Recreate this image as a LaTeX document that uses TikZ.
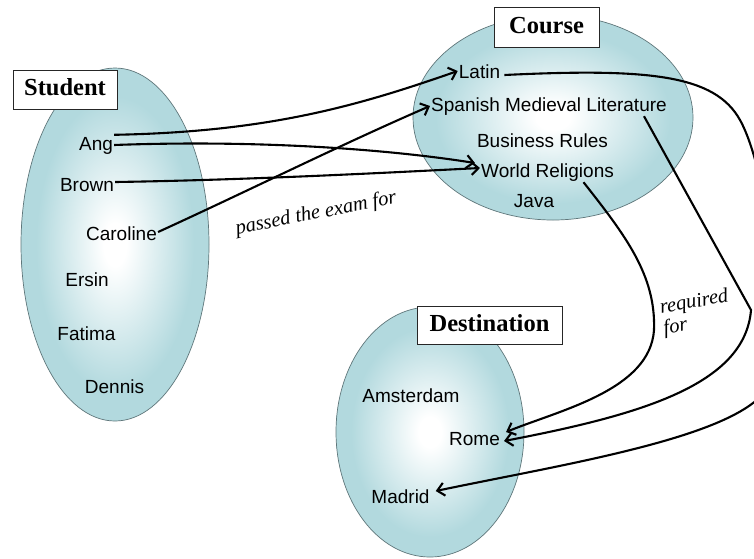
\documentclass[tikz,border=0pt]{standalone}
\usepackage{fontspec}
\setmainfont{Liberation Serif}
\setsansfont{Liberation Sans}
\usetikzlibrary{arrows.meta}
\definecolor{setfill}{RGB}{178,217,222}
\definecolor{setedge}{RGB}{95,118,122}
\pgfdeclareradialshading{setshade}{\pgfpointorigin}{color(0bp)=(white); color(3bp)=(white); color(21bp)=(setfill); color(50bp)=(setfill)}
\begin{document}
\begin{tikzpicture}[x=1pt,y=-1pt,
  setellipse/.style={draw=setedge, line width=0.7pt, shading=setshade},
  titlebox/.style={draw=black!85, fill=white, line width=0.7pt, font=\bfseries\fontsize{24.5}{28}\selectfont, inner sep=0pt, text height=17pt, text depth=5pt},
  item/.style={font=\sffamily\fontsize{19}{22}\selectfont, inner sep=1pt, text height=14pt, text depth=4pt, anchor=base},
  rel/.style={line width=2.1pt, -{Straight Barb[length=7pt,width=13pt]}},
  lbl/.style={font=\itshape\fontsize{20.5}{21}\selectfont, inner sep=0pt}
]
\useasboundingbox (0,0) rectangle (754,558);
\clip (0,0) rectangle (754,558);

% sets
\path[setellipse] (115,244.5) ellipse [x radius=94, y radius=176.5];
\path[setellipse] (553,117.5) ellipse [x radius=140, y radius=102.5];
\path[setellipse] (430,432) ellipse [x radius=94, y radius=125];

% titles
\node[titlebox, minimum width=104pt, minimum height=39pt] (tstudent) at (65,89.5) {Student};
\node[titlebox, minimum width=105pt, minimum height=40pt] (tcourse) at (546.5,27) {Course};
\node[titlebox, minimum width=145pt, minimum height=38pt] (tdest) at (489.5,325) {Destination};

% students
\node[item] (ang) at (96,150) {Ang};
\node[item] (brown) at (87,191) {Brown};
\node[item] (caroline) at (121.5,240) {Caroline};
\node[item] (ersin) at (87,286) {Ersin};
\node[item] (fatima) at (86.5,340) {Fatima};
\node[item] (dennis) at (114.5,393) {Dennis};

% courses
\node[item] (latin) at (479.5,78) {Latin};
\node[item] (sml) at (549,111) {Spanish Medieval Literature};
\node[item] (br) at (542.5,147) {Business Rules};
\node[item] (wr) at (547.5,177) {World Religions};
\node[item] (java) at (534,207) {Java};

% destinations
\node[item] (ams) at (411,402) {Amsterdam};
\node[item] (rome) at (474.5,445) {Rome};
\node[item] (madrid) at (400.5,503) {Madrid};

% passed the exam for
\draw[rel] (ang.north east) .. controls (270,132) and (360,105) .. ([yshift=2pt]latin.west);
\draw[rel] (ang.east) .. controls (250,140) and (380,148) .. ([xshift=-5pt,yshift=9pt]wr.west);
\draw[rel] ([yshift=4pt]brown.east) .. controls (250,180) and (400,172) .. ([yshift=4pt]wr.west);
\draw[rel] ([yshift=3pt]caroline.east) .. controls (250,190) and (340,145) .. (sml.west);

% required for
\draw[rel] ([xshift=36pt]wr.south) .. controls (625,235) and (656,275) .. (654,330)
  .. controls (650,390) and (560,410) .. ([xshift=5pt,yshift=8pt]rome.east);
\draw[rel] ([xshift=95pt]sml.south) -- (751,310)
  .. controls (745,385) and (640,415) .. ([xshift=3pt,yshift=-1pt]rome.east);
\draw[rel] ([xshift=3pt,yshift=-2pt]latin.east) .. controls (650,68) and (715,75) .. (740,120)
  .. controls (755,147) and (770,210) .. (770,270)
  .. controls (770,340) and (775,375) .. (762,395)
  .. controls (720,440) and (560,465) .. ([xshift=5pt,yshift=7pt]madrid.east);

% labels
\node[lbl, rotate=11] (pef) at (316,214) {passed the exam for};
\node[lbl, rotate=10, align=left] (rf) at (696,313) {required\\for};
\end{tikzpicture}
\end{document}
